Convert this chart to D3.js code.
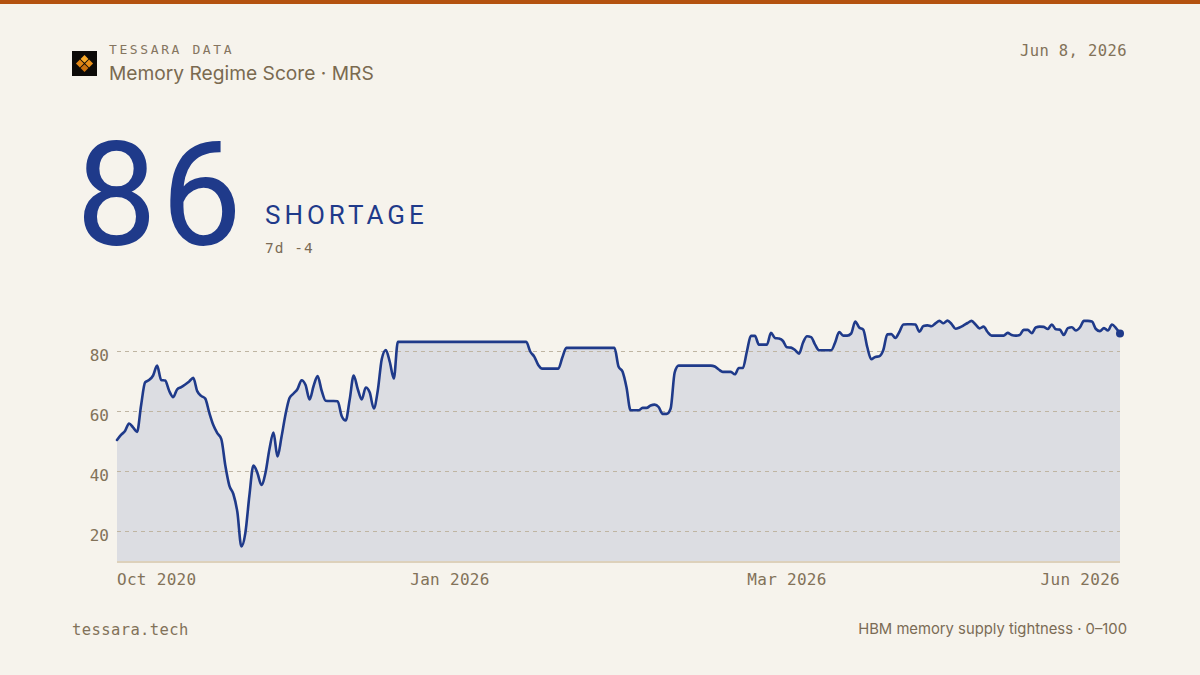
<!DOCTYPE html>
<html>
<head>
<meta charset="utf-8">
<script src="https://cdn.jsdelivr.net/npm/d3@7"></script>
<style>
  html, body { margin: 0; padding: 0; background: #f6f3ec; }
  svg { display: block; }
</style>
</head>
<body>
<svg id="chart" width="1200" height="675"></svg>
<script>
// ---- data ----
const mrsValues = [
  50.5, 52.2, 53.5, 56, 54.7, 53.2, 62, 69.7, 70.5, 72,
  75.3, 70.5, 70.3, 66.9, 64.8, 67.4, 68.1, 69, 70, 71.2,
  66.8, 65.2, 64.3, 59.6, 55.5, 52.8, 50.8, 42, 35.3, 32.5,
  26.5, 15, 19.6, 32, 42, 39.5, 35.5, 39.5, 47.5, 53,
  45, 51.5, 59, 64.5, 66, 67.5, 70.4, 68.8, 64, 68.5,
  71.8, 67, 63.6, 63.5, 63.5, 63.4, 58.5, 57, 64, 72,
  67.5, 64, 68, 66.3, 61, 67, 77.5, 80.5, 76.5, 71,
  83.2, 83.2, 83.2, 83.2, 83.2, 83.2, 83.2, 83.2, 83.2, 83.2,
  83.2, 83.2, 83.2, 83.2, 83.2, 83.2, 83.2, 83.2, 83.2, 83.2,
  83.2, 83.2, 83.2, 83.2, 83.2, 83.2, 83.2, 83.2, 83.2, 83.2,
  83.2, 83.2, 83.2, 80, 78.3, 75.5, 74.3, 74.3, 74.3, 74.3,
  74.3, 78, 81.2, 81.2, 81.2, 81.2, 81.2, 81.2, 81.2, 81.2,
  81.2, 81.2, 81.2, 81.2, 81.2, 75, 73.3, 68, 60.4, 60.4,
  60.4, 61.2, 61.2, 62, 62.3, 61.5, 59.2, 59.2, 61, 73,
  75.3, 75.3, 75.3, 75.3, 75.3, 75.3, 75.3, 75.3, 75.3, 75,
  74, 73.2, 73.2, 73.2, 72.4, 74.5, 74.5, 80, 85.2, 85.2,
  82.3, 82.3, 82.3, 86.2, 84.5, 84.3, 83.5, 81.4, 81.3, 80.5,
  79.3, 83, 85.1, 84.8, 82.3, 80.4, 80.4, 80.4, 80.4, 83,
  86.5, 85.3, 85.3, 86, 90, 88, 87.3, 81.5, 77.4, 78.2,
  78.4, 80.5, 85.7, 85.8, 84.5, 86.5, 89, 89.1, 89.1, 89,
  86.6, 88.5, 88.7, 88.4, 89.4, 90.2, 89.4, 90.3, 89.2, 87.6,
  88, 88.7, 89.5, 90.2, 89, 87.7, 88.3, 86.5, 85.3, 85.3,
  85.3, 85.3, 86.2, 85.5, 85.3, 85.5, 87.2, 87.2, 86.1, 88,
  88.3, 88.2, 87.5, 89, 87.4, 87.3, 85.5, 87.8, 88.1, 87,
  88, 90.2, 90.2, 90, 87.5, 86.8, 87.8, 87, 89, 87.8, 86
];
const xTickIndex = [0, 83, 167, 250];
const xTickLabels = ["Oct 2020", "Jan 2026", "Mar 2026", "Jun 2026"];
const yTickValues = [20, 40, 60, 80];
const yDomain = [10, 90];
const headline = { score: "86", regime: "SHORTAGE", change: "7d -4" };
const headerTexts = { brand: "TESSARA DATA", title: "Memory Regime Score · MRS", date: "Jun 8, 2026" };
const footerTexts = { left: "tessara.tech", right: "HBM memory supply tightness · 0–100" };

// ---- styles ----
const NAVY = "#1f3a8a";
const BROWN = "#7b6b55";
const MONO = "'DejaVu Sans Mono', 'Liberation Mono', monospace";
const SANS = "Inter, 'Noto Sans', sans-serif";

const svg = d3.select("#chart");

svg.append("rect").attr("width", 1200).attr("height", 675).attr("fill", "#f6f3ec");
svg.append("rect").attr("x", 0).attr("y", 0).attr("width", 1200).attr("height", 4).attr("fill", "#b4520f");

// logo
const logo = svg.append("g").attr("transform", "translate(72,51)");
logo.append("rect").attr("width", 25).attr("height", 25).attr("fill", "#0c0a08");
const lg = logo.append("g").attr("transform", "translate(12.5,12.5) rotate(45)");
const s = 5.6, gap = 0.9;
[[-1, -1, "#f7a928"], [1, -1, "#e8901a"], [-1, 1, "#e08614"], [1, 1, "#c9700c"]].forEach(([dx, dy, c]) => {
  lg.append("rect")
    .attr("x", dx < 0 ? -s - gap / 2 : gap / 2)
    .attr("y", dy < 0 ? -s - gap / 2 : gap / 2)
    .attr("width", s).attr("height", s).attr("fill", c);
});

svg.append("text").attr("x", 109).attr("y", 54)
  .attr("font-family", MONO).attr("font-size", 13).attr("letter-spacing", 2.6)
  .attr("fill", "#857560").text(headerTexts.brand);
svg.append("text").attr("x", 109).attr("y", 80)
  .attr("font-family", SANS).attr("font-size", 19.2)
  .attr("fill", "#7a6a50").text(headerTexts.title);
svg.append("text").attr("x", 1127).attr("y", 56).attr("text-anchor", "end")
  .attr("font-family", MONO).attr("font-size", 15.5).attr("letter-spacing", 0.4)
  .attr("fill", "#827259").text(headerTexts.date);

// headline
svg.append("text").attr("x", 76).attr("y", 245)
  .attr("font-family", "Roboto, 'Liberation Sans', sans-serif").attr("font-weight", 400)
  .attr("font-size", 144).attr("letter-spacing", 4).attr("fill", NAVY).text(headline.score);
svg.append("text").attr("x", 265).attr("y", 223.5)
  .attr("font-family", "Roboto, 'Liberation Sans', sans-serif").attr("font-size", 26)
  .attr("letter-spacing", 4).attr("fill", NAVY).text(headline.regime);
svg.append("text").attr("x", 265).attr("y", 252.5)
  .attr("font-family", MONO).attr("font-size", 14.5).attr("letter-spacing", 1)
  .attr("fill", BROWN).text(headline.change);

// ---- chart ----
const x = d3.scaleLinear().domain([0, mrsValues.length - 1]).range([117, 1120]);
const y = d3.scaleLinear().domain(yDomain).range([561.5, 321.5]);

const area = d3.area()
  .x((d, i) => x(i)).y0(y(yDomain[0])).y1(d => y(d))
  .curve(d3.curveMonotoneX);
const line = d3.line()
  .x((d, i) => x(i)).y(d => y(d))
  .curve(d3.curveMonotoneX);

svg.append("path").datum(mrsValues).attr("d", area).attr("fill", "#dcdde2");

// grid
const grid = svg.append("g");
yTickValues.forEach(v => {
  grid.append("line")
    .attr("x1", x(0)).attr("x2", x(mrsValues.length - 1))
    .attr("y1", y(v)).attr("y2", y(v))
    .attr("stroke", "#bfb5a2").attr("stroke-width", 1).attr("stroke-dasharray", "4,4");
  grid.append("text").attr("x", 109).attr("y", y(v) + 9.5).attr("text-anchor", "end")
    .attr("font-family", MONO).attr("font-size", 16).attr("fill", "#827259").text(v);
});

// baseline
svg.append("line").attr("x1", x(0)).attr("x2", x(mrsValues.length - 1))
  .attr("y1", y(yDomain[0]) + 0.5).attr("y2", y(yDomain[0]) + 0.5)
  .attr("stroke", "#ddd1bb").attr("stroke-width", 2);

svg.append("path").datum(mrsValues).attr("d", line)
  .attr("fill", "none").attr("stroke", NAVY).attr("stroke-width", 2.6)
  .attr("stroke-linejoin", "round").attr("stroke-linecap", "round");

const last = mrsValues.length - 1;
svg.append("circle").attr("cx", x(last)).attr("cy", y(mrsValues[last])).attr("r", 4).attr("fill", NAVY);

// x ticks
xTickIndex.forEach((idx, k) => {
  const anchor = k === 0 ? "start" : (k === xTickIndex.length - 1 ? "end" : "middle");
  svg.append("text").attr("x", x(idx)).attr("y", 585).attr("text-anchor", anchor)
    .attr("font-family", MONO).attr("font-size", 16).attr("letter-spacing", 0.3)
    .attr("fill", "#827259").text(xTickLabels[k]);
});

// footer
svg.append("text").attr("x", 72).attr("y", 635)
  .attr("font-family", MONO).attr("font-size", 15.5).attr("letter-spacing", 0.4)
  .attr("fill", "#827259").text(footerTexts.left);
svg.append("text").attr("x", 1127).attr("y", 634).attr("text-anchor", "end")
  .attr("font-family", SANS).attr("font-size", 14.8)
  .attr("fill", BROWN).text(footerTexts.right);
</script>
</body>
</html>
